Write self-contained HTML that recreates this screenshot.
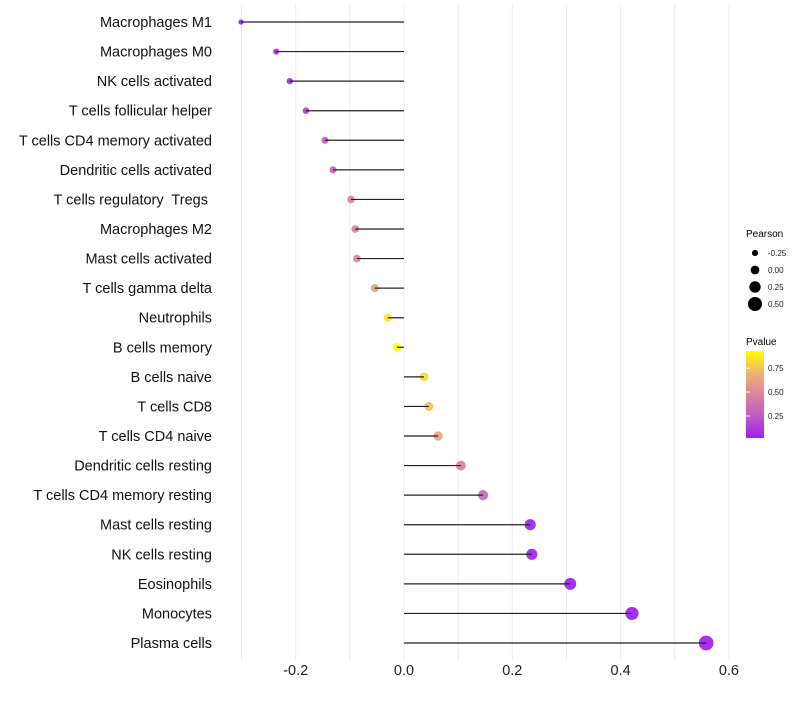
<!DOCTYPE html>
<html><head><meta charset="utf-8"><style>
body{margin:0;background:#fff;font-family:"Liberation Sans",sans-serif}
svg text{font-family:"Liberation Sans",sans-serif;white-space:pre}
</style></head><body>
<svg id="chart" width="800" height="700">
<defs><linearGradient id="pg" x1="0" y1="1" x2="0" y2="0">
<stop offset="0" stop-color="#a020f0"/><stop offset="0.25" stop-color="#bd5ac6"/><stop offset="0.5" stop-color="#d9859e"/><stop offset="0.75" stop-color="#eeb471"/><stop offset="1" stop-color="#ffff00"/></linearGradient></defs>
<g id="grid"></g><g id="marks"></g><g id="labels"></g>
<g>
<text x="746" y="237" font-size="10">Pearson</text>
<g id="sizeLegend"></g>
<text x="746" y="345" font-size="10">Pvalue</text>
<rect x="746" y="351" width="18" height="87" fill="url(#pg)"/>
<g id="cbTicks"></g>
</g>
</svg>
<script>
const categories=["Macrophages M1","Macrophages M0","NK cells activated","T cells follicular helper","T cells CD4 memory activated","Dendritic cells activated","T cells regulatory  Tregs ","Macrophages M2","Mast cells activated","T cells gamma delta","Neutrophils","B cells memory","B cells naive","T cells CD8","T cells CD4 naive","Dendritic cells resting","T cells CD4 memory resting","Mast cells resting","NK cells resting","Eosinophils","Monocytes","Plasma cells"];
const pearson=[-0.301,-0.236,-0.211,-0.181,-0.146,-0.131,-0.098,-0.090,-0.087,-0.054,-0.030,-0.013,0.037,0.046,0.063,0.105,0.146,0.233,0.236,0.307,0.421,0.558];
const pvalue=[0.02,0.05,0.08,0.15,0.27,0.3,0.45,0.45,0.47,0.62,0.85,0.95,0.82,0.75,0.62,0.45,0.35,0.03,0.03,0.02,0.01,0.0];
const xTicks=[-0.2,0,0.2,0.4,0.6];
const xTickLabels=["-0.2","0.0","0.2","0.4","0.6"];
const gridVals=[-0.3,-0.2,-0.1,0,0.1,0.2,0.3,0.4,0.5,0.6];
const sizeLegendVals=[-0.25,0,0.25,0.5];
const sizeLegendLabels=["-0.25","0.00","0.25","0.50"];
const cbVals=[0.25,0.5,0.75];
const cbLabels=["0.25","0.50","0.75"];

const NS="http://www.w3.org/2000/svg";
const x=v=>404+v*541.5;
const y=i=>22+i*(621/21);
const r=v=>4.3+5.5*v;
const cy=p=>438-(p-0.02)/(0.93-0.02)*87;
const stops=[[0,[160,32,240]],[0.25,[189,90,198]],[0.5,[217,133,158]],[0.75,[238,180,113]],[1,[255,255,0]]];
function col(p){let t=Math.max(0,Math.min(1,(p-0.02)/(0.93-0.02)));for(let k=0;k<stops.length-1;k++){const[a,ca]=stops[k],[b,cb]=stops[k+1];if(t<=b){const f=(t-a)/(b-a);return"rgb("+ca.map((c,j)=>Math.round(c+(cb[j]-c)*f)).join(",")+")";}}return"rgb(255,255,0)";}
function mk(tag,at,parent){const e=document.createElementNS(NS,tag);for(const k in at)e.setAttribute(k,at[k]);document.getElementById(parent).appendChild(e);return e;}

gridVals.forEach(v=>{const e=mk("line",{x1:x(v),x2:x(v),y1:5,y2:660,stroke:"#ebebeb","stroke-width":1},"grid");

});
xTicks.forEach((v,i)=>{const t=mk("text",{x:x(v),y:675,"font-size":14.5,"text-anchor":"middle",fill:"#222"},"labels");t.textContent=xTickLabels[i];

});
categories.forEach((c,i)=>{
const t=mk("text",{x:212,y:y(i)+5,"font-size":14.5,"text-anchor":"end",fill:"#111"},"labels");t.textContent=c;


const p=mk("circle",{cx:x(pearson[i]),cy:y(i),r:r(pearson[i]),fill:col(pvalue[i]),"fill-opacity":0.92},"marks");


const l=mk("line",{x1:x(0),x2:x(pearson[i]),y1:y(i),y2:y(i),stroke:"#222","stroke-width":1.2},"marks");


});
sizeLegendVals.forEach((v,i)=>{const yy=253+i*17;
const c=mk("circle",{cx:755,cy:yy,r:r(v)*0.95+0.3,fill:"#000"},"sizeLegend");


const t=mk("text",{x:768,y:yy+3,"font-size":8,fill:"#222"},"sizeLegend");t.textContent=sizeLegendLabels[i];

});
cbVals.forEach((v,i)=>{
const t=mk("text",{x:768,y:cy(v)+3,"font-size":8,fill:"#222"},"cbTicks");t.textContent=cbLabels[i];


const l=mk("line",{x1:746,x2:750,y1:cy(v),y2:cy(v),stroke:"#fff"},"cbTicks");

});
</script>
</body></html>
